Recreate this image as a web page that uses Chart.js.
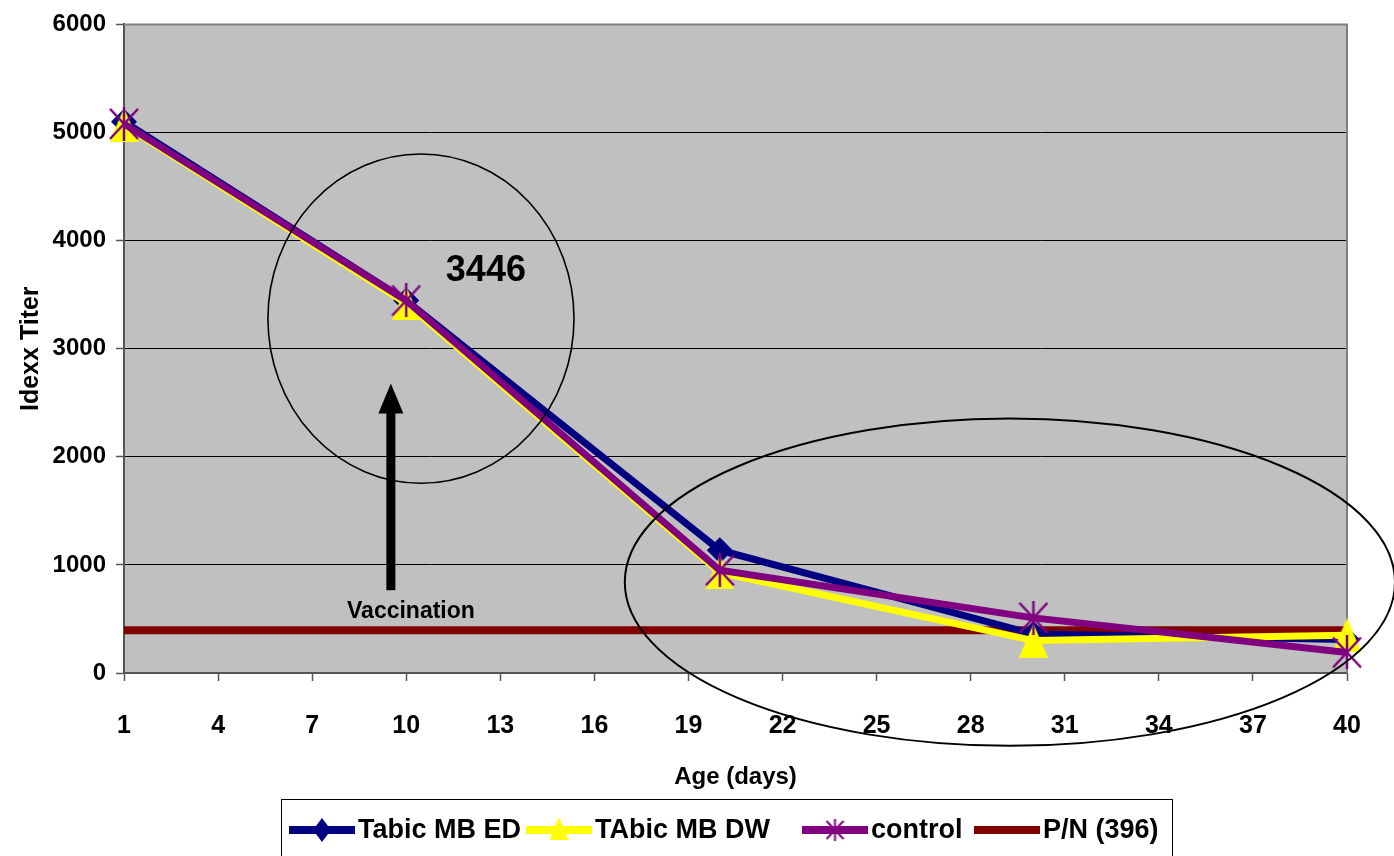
<!DOCTYPE html>
<html>
<head>
<meta charset="utf-8">
<script src="https://cdn.jsdelivr.net/npm/chart.js@4.4.1/dist/chart.umd.min.js"></script>
<style>
  html, body { margin: 0; padding: 0; background: #fff; }
  #wrap { width: 1394px; height: 856px; position: relative; }
</style>
</head>
<body>
<div id="wrap"><canvas id="titer-chart"></canvas></div>
<script>
// values
const days = [1, 10, 20, 30, 40];
const tabicED = [5100, 3446, 1136, 360, 310];
const tabicDW = [5070, 3420, 930, 300, 350];
const control = [5080, 3446, 950, 510, 190];
const pnValue = 396;
const xTickValues = [1, 4, 7, 10, 13, 16, 19, 22, 25, 28, 31, 34, 37, 40];
const seriesLabels = ["Tabic MB ED", "TAbic MB DW", "control", "P/N (396)"];

const NAVY = "#000080";
const YELLOW = "#ffff00";
const PURPLE = "#800080";
const DARKRED = "#800000";
const FONT = "'Liberation Sans', Arial, sans-serif";

function asteriskMarker(w, h, lw) {
  const c = document.createElement("canvas");
  c.width = w;
  c.height = h;
  const g = c.getContext("2d");
  g.strokeStyle = PURPLE;
  g.lineWidth = lw;
  g.beginPath();
  g.moveTo(w / 2, 0);
  g.lineTo(w / 2, h);
  g.moveTo(1, 2);
  g.lineTo(w - 1, h - 2);
  g.moveTo(w - 1, 2);
  g.lineTo(1, h - 2);
  g.stroke();
  return c;
}

function triangleMarker(w, h) {
  const c = document.createElement("canvas");
  c.width = w;
  c.height = h;
  const g = c.getContext("2d");
  g.fillStyle = YELLOW;
  g.beginPath();
  g.moveTo(w / 2, 0);
  g.lineTo(w, h);
  g.lineTo(0, h);
  g.closePath();
  g.fill();
  return c;
}

const starBig = asteriskMarker(30, 34, 2.5);
const triBig = triangleMarker(29, 34);

function pts(values) {
  return days.map((d, i) => ({ x: d, y: values[i] }));
}

// chart-area background + frame
const plotFrame = {
  id: "plotFrame",
  beforeDraw(chart) {
    const { ctx, chartArea: a } = chart;
    ctx.save();
    ctx.fillStyle = "#fff";
    ctx.fillRect(0, 0, chart.width, chart.height);
    ctx.fillStyle = "#c0c0c0";
    ctx.fillRect(a.left, a.top, a.right - a.left, a.bottom - a.top);
    ctx.restore();
  },
  beforeDatasetsDraw(chart) {
    const { ctx, chartArea: a } = chart;
    ctx.save();
    ctx.strokeStyle = "#808080";
    ctx.lineWidth = 2;
    ctx.beginPath();
    ctx.moveTo(a.left, a.top);
    ctx.lineTo(a.right, a.top);
    ctx.lineTo(a.right, a.bottom);
    ctx.stroke();
    ctx.restore();
  },
};

// circles, arrow and labels drawn over the plot (positions in data units)
const notes = {
  smallCircle: { x: 10.47, y: 3278, rx: 4.88, ry: 1523 },
  bigEllipse: { x: 29.25, y: 840, rx: 12.28, ry: 1514 },
  arrow: { x: 9.51, from: 766, to: 2677 },
  vaccination: { x: 10.15, y: 572 },
  value: { x: 12.54, y: 3720, text: "3446" },
};

const annotations = {
  id: "annotations",
  afterDraw(chart) {
    const { ctx } = chart;
    const xs = chart.scales.x;
    const ys = chart.scales.y;
    const px = (v) => xs.getPixelForValue(v);
    const py = (v) => ys.getPixelForValue(v);
    ctx.save();

    function ellipse(e, lw) {
      const cx = px(e.x);
      const cy = py(e.y);
      const rx = px(e.x + e.rx) - cx;
      const ry = cy - py(e.y + e.ry);
      ctx.lineWidth = lw;
      ctx.strokeStyle = "#000";
      ctx.beginPath();
      ctx.ellipse(cx, cy, rx, ry, 0, 0, Math.PI * 2);
      ctx.stroke();
    }
    ellipse(notes.smallCircle, 1.6);
    ellipse(notes.bigEllipse, 2);

    // arrow
    const ax = px(notes.arrow.x);
    const y0 = py(notes.arrow.from);
    const y1 = py(notes.arrow.to);
    ctx.fillStyle = "#000";
    ctx.fillRect(ax - 4.5, y1 + 28, 9, y0 - y1 - 28);
    ctx.beginPath();
    ctx.moveTo(ax, y1);
    ctx.lineTo(ax + 12.5, y1 + 30);
    ctx.lineTo(ax - 12.5, y1 + 30);
    ctx.closePath();
    ctx.fill();

    ctx.textAlign = "center";
    ctx.textBaseline = "middle";
    ctx.font = `bold 23px ${FONT}`;
    ctx.fillText("Vaccination", px(notes.vaccination.x), py(notes.vaccination.y));
    ctx.font = `bold 36px ${FONT}`;
    ctx.fillText(notes.value.text, px(notes.value.x), py(notes.value.y));
    ctx.restore();
  },
};

// Excel-style legend: line segment with the marker in its middle
const starSmall = asteriskMarker(19, 22, 2);
const triSmall = triangleMarker(19, 23);
const legendBox = {
  id: "legendBox",
  afterDraw(chart) {
    const { ctx } = chart;
    const box = { left: 281, top: 799, right: 1172 };
    const lineStarts = [289, 526, 802, 974];
    const colors = [NAVY, YELLOW, PURPLE, DARKRED];
    const yMid = 830;
    ctx.save();
    ctx.strokeStyle = "#000";
    ctx.lineWidth = 1;
    ctx.strokeRect(box.left + 0.5, box.top + 0.5, box.right - box.left, 80);
    ctx.font = `bold 27px ${FONT}`;
    ctx.textBaseline = "middle";
    ctx.textAlign = "left";
    seriesLabels.forEach((label, i) => {
      const x0 = lineStarts[i];
      const len = 66;
      const cx = x0 + len / 2;
      ctx.strokeStyle = colors[i];
      ctx.lineWidth = 8;
      ctx.beginPath();
      ctx.moveTo(x0, yMid);
      ctx.lineTo(x0 + len, yMid);
      ctx.stroke();
      if (i === 0) {
        ctx.fillStyle = NAVY;
        ctx.beginPath();
        ctx.moveTo(cx, yMid - 12);
        ctx.lineTo(cx + 9, yMid);
        ctx.lineTo(cx, yMid + 12);
        ctx.lineTo(cx - 9, yMid);
        ctx.closePath();
        ctx.fill();
      } else if (i === 1) {
        ctx.drawImage(triSmall, cx - 9.5, yMid - 13);
      } else if (i === 2) {
        ctx.drawImage(starSmall, cx - 9.5, yMid - 11);
      }
      ctx.fillStyle = "#000";
      ctx.fillText(label, x0 + len + 3, yMid + 1);
    });
    ctx.restore();
  },
};

const tickFont = { family: FONT, size: 24, weight: "bold" };

new Chart(document.getElementById("titer-chart"), {
  type: "line",
  data: {
    datasets: [
      {
        label: seriesLabels[0],
        data: pts(tabicED),
        borderColor: NAVY,
        backgroundColor: NAVY,
        borderWidth: 7,
        pointStyle: "rectRot",
        pointRadius: 13,
        pointBorderWidth: 0,
        clip: false,
        order: 3,
      },
      {
        label: seriesLabels[1],
        data: pts(tabicDW),
        borderColor: YELLOW,
        backgroundColor: YELLOW,
        borderWidth: 7,
        pointStyle: triBig,
        clip: false,
        order: 2,
      },
      {
        label: seriesLabels[2],
        data: pts(control),
        borderColor: PURPLE,
        backgroundColor: PURPLE,
        borderWidth: 7,
        pointStyle: starBig,
        clip: false,
        order: 1,
      },
      {
        label: seriesLabels[3],
        data: days.map((d) => ({ x: d, y: pnValue })),
        borderColor: DARKRED,
        backgroundColor: DARKRED,
        borderWidth: 8,
        pointRadius: 0,
        clip: false,
        order: 4,
      },
    ],
  },
  options: {
    responsive: true,
    maintainAspectRatio: false,
    animation: false,
    events: [],
    layout: { padding: { top: 23, right: 47, bottom: 58, left: 0 } },
    plugins: {
      legend: { display: false },
      tooltip: { enabled: false },
    },
    scales: {
      x: {
        type: "linear",
        min: 1,
        max: 40,
        afterBuildTicks(scale) {
          scale.ticks = xTickValues.map((v) => ({ value: v }));
        },
        afterFit(scale) {
          scale.height = 125;
        },
        ticks: { font: { ...tickFont, size: 25 }, color: "#000", padding: 30, autoSkip: false, maxRotation: 0 },
        grid: { drawOnChartArea: false, drawTicks: true, tickLength: 8, tickColor: "#555", tickWidth: 1.5 },
        border: { color: "#555", width: 2 },
        title: {
          display: true,
          text: "Age (days)",
          color: "#000",
          font: { family: FONT, size: 24, weight: "bold" },
          padding: { top: 0, bottom: 6 },
        },
      },
      y: {
        min: 0,
        max: 6000,
        afterFit(scale) {
          scale.width = 124;
        },
        ticks: {
          stepSize: 1000,
          font: tickFont,
          color: "#000",
          padding: 10,
          callback: (v) => String(v),
        },
        grid: {
          color: (c) => (c.tick && c.tick.value === 6000 ? "#808080" : "#000"),
          lineWidth: 1,
          tickLength: 8,
          tickColor: "#555",
          tickWidth: 1.5,
        },
        border: { color: "#555", width: 2 },
        title: {
          display: true,
          text: "Idexx Titer",
          color: "#000",
          font: { family: FONT, size: 25, weight: "bold" },
          padding: { top: 16, bottom: 0 },
        },
      },
    },
  },
  plugins: [plotFrame, annotations, legendBox],
});
</script>
</body>
</html>
